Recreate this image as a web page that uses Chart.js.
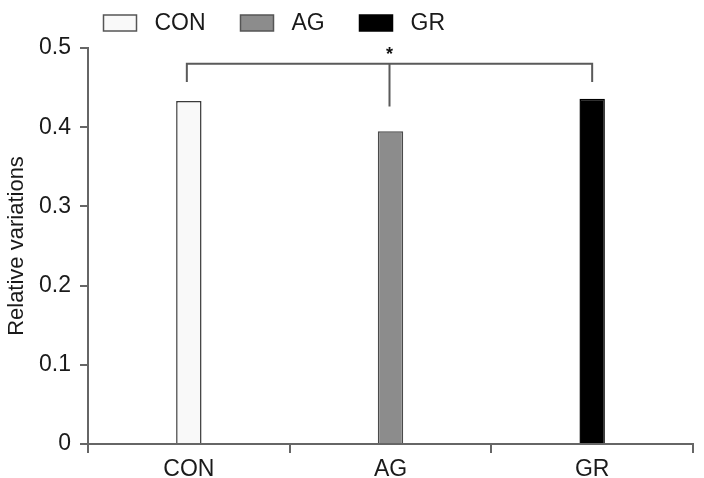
<!DOCTYPE html>
<html>
<head>
<meta charset="utf-8">
<script src="https://cdn.jsdelivr.net/npm/chart.js@4/dist/chart.umd.min.js"></script>
<style>
  html, body { margin: 0; padding: 0; background: #ffffff; }
  #wrap { width: 704px; height: 478px; position: relative; }
</style>
</head>
<body>
<div id="wrap"><canvas id="c" width="704" height="478"></canvas></div>
<script>
// ---- data ----
const categories = ['CON', 'AG', 'GR'];
const values = [0.433, 0.395, 0.436];
const barColors = ['#f9f9f9', '#8c8c8c', '#000000'];
const barBorders = ['#3a3a3a', '#4a4a4a', '#000000'];
const yTicks = [0, 0.1, 0.2, 0.3, 0.4, 0.5];
const yTitle = 'Relative variations';
// significance bracket (between first and last category)
const bracketFrom = 0;
const bracketTo = 2;
const bracketMid = 1;
const bracketTop = 0.48;
const bracketEndDrop = 0.457;
const bracketMidDrop = 0.426;
const bracketLabel = '*';

const FONT = '"Liberation Sans", Arial, Helvetica, sans-serif';
const AXIS = '#666666';

const legendPlugin = {
  id: 'customLegend',
  afterDraw(chart) {
    const ctx = chart.ctx;
    ctx.save();
    ctx.font = '23px ' + FONT;
    ctx.textBaseline = 'middle';
    ctx.fillStyle = '#1a1a1a';
    let x = 103.5;
    const y = 15;
    for (let i = 0; i < categories.length; i++) {
      ctx.fillStyle = barColors[i];
      ctx.fillRect(x, y, 33, 16);
      ctx.lineWidth = 1.5;
      ctx.strokeStyle = i === 2 ? '#000' : '#555';
      ctx.strokeRect(x, y, 33, 16);
      ctx.fillStyle = '#1a1a1a';
      const tx = x + 51;
      ctx.fillText(categories[i], tx, y + 9);
      x = Math.round(tx + ctx.measureText(categories[i]).width + 34) + 0.5;
    }
    ctx.restore();
  }
};

const bracketPlugin = {
  id: 'bracket',
  afterDatasetsDraw(chart) {
    const xs = chart.scales.x, ys = chart.scales.y;
    const ctx = chart.ctx;
    const x1 = xs.getPixelForValue(bracketFrom) - 2;
    const x2 = xs.getPixelForValue(bracketTo);
    const xm = xs.getPixelForValue(bracketMid) - 1;
    const yt = ys.getPixelForValue(bracketTop);
    const ye = ys.getPixelForValue(bracketEndDrop);
    const ym = ys.getPixelForValue(bracketMidDrop);
    ctx.save();
    ctx.strokeStyle = '#5a5a5a';
    ctx.lineWidth = 2;
    ctx.beginPath();
    ctx.moveTo(x1, ye); ctx.lineTo(x1, yt); ctx.lineTo(x2, yt); ctx.lineTo(x2, ye);
    ctx.moveTo(xm, yt); ctx.lineTo(xm, ym);
    ctx.stroke();
    ctx.fillStyle = '#111';
    ctx.font = 'bold 18px ' + FONT;
    ctx.textAlign = 'center';
    ctx.textBaseline = 'middle';
    ctx.fillText(bracketLabel, xm, yt - 9);
    ctx.restore();
  }
};

new Chart(document.getElementById('c'), {
  type: 'bar',
  data: {
    labels: categories,
    datasets: [{
      label: 'Relative variations',
      data: values,
      backgroundColor: barColors,
      borderColor: barBorders,
      borderWidth: 1.5,
      categoryPercentage: 1,
      barPercentage: 0.126
    }]
  },
  options: {
    responsive: false,
    animation: false,
    layout: { padding: { top: 48, right: 11, left: 0, bottom: 0 } },
    plugins: { legend: { display: false }, tooltip: { enabled: false } },
    scales: {
      x: {
        offset: true,
        grid: { display: true, drawOnChartArea: false, offset: true, tickLength: 9, color: AXIS, lineWidth: 2 },
        border: { display: true, color: AXIS, width: 2 },
        ticks: { font: { family: FONT, size: 23 }, color: '#1a1a1a', padding: 3 },
        afterFit(scale) { scale.height = 34; }
      },
      y: {
        min: 0, max: 0.5,
        afterBuildTicks(scale) { scale.ticks = yTicks.map(v => ({ value: v })); },
        grid: { display: true, drawOnChartArea: false, tickLength: 8, color: AXIS, lineWidth: 2 },
        border: { display: true, color: AXIS, width: 2 },
        ticks: {
          font: { family: FONT, size: 23 }, color: '#1a1a1a', padding: 9,
          callback: (v) => (v === 0 ? '0' : v.toFixed(1))
        },
        title: { display: true, text: yTitle, font: { family: FONT, size: 22 }, color: '#1a1a1a', padding: { top: 4, bottom: 4 } },
        afterFit(scale) { scale.width = 88; }
      }
    }
  },
  plugins: [legendPlugin, bracketPlugin]
});
</script>
</body>
</html>
